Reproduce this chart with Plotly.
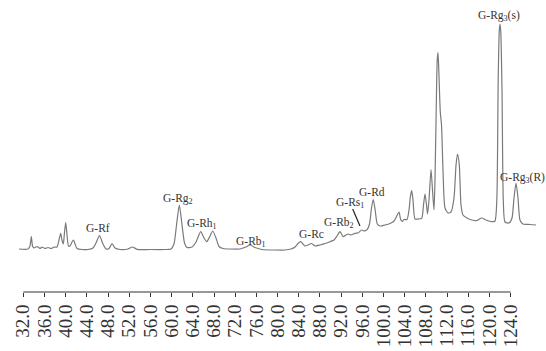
import plotly.graph_objects as go

# Retention time (min) and detector signal (arbitrary units)
time = [31.19, 32.89, 33.26, 33.51, 33.74, 34.02, 34.59, 35.15, 35.53, 36.10, 36.66, 37.23, 37.79, 38.36,
        38.74, 39.06, 39.30, 39.55, 39.78, 40.00, 40.25, 40.53, 40.81, 41.19, 41.48, 41.76, 42.14, 43.08,
        44.21, 45.16, 45.72, 46.38, 47.04, 47.61, 48.18, 48.74, 49.31, 50.25, 51.76, 52.61, 53.46, 55.91,
        58.75, 59.88, 60.44, 60.92, 61.45, 61.96, 62.43, 62.90, 63.85, 64.60, 65.48, 66.11, 66.62, 67.15,
        67.75, 68.37, 68.94, 69.69, 71.01, 72.90, 74.03, 74.79, 75.73, 77.06, 79.51, 81.40, 82.53, 83.29,
        83.85, 84.36, 84.80, 85.18, 85.74, 86.44, 87.06, 88.00, 88.95, 89.89, 90.65, 91.21, 91.78, 92.40,
        92.91, 93.34, 93.85, 94.61, 95.17, 95.87, 96.31, 96.93, 97.35, 97.72, 98.06, 98.42, 98.82, 99.33,
        100.27, 101.21, 101.97, 102.44, 102.92, 103.20, 103.48, 103.86, 104.43, 104.80, 105.08, 105.31,
        105.56, 105.93, 106.50, 107.20, 107.54, 107.82, 108.11, 108.30, 108.58, 108.96, 109.24, 109.52,
        109.71, 109.94, 110.13, 110.28, 110.46, 110.71, 110.94, 111.22, 111.60, 112.17, 112.73, 113.30,
        113.68, 113.96, 114.30, 114.62, 115.00, 115.75, 116.69, 117.64, 118.52, 119.34, 120.41, 121.03,
        121.38, 121.64, 121.85, 121.98, 122.13, 122.36, 122.60, 122.92, 123.68, 124.25, 124.62, 125.00,
        125.38, 125.75, 126.32, 127.64, 128.77]
signal = [1, 1, 4, 13.3, 4, 2, 3.5, 1.5, 3, 1.5, 2.5, 1.5, 3, 3,
          10, 16.7, 10, 6, 18, 27.3, 15, 4, 4, 8, 10, 6, 1.5, 0.5,
          0.5, 2, 7, 14.3, 6, 1, 1.5, 6.5, 2, 0.5, 1, 3, 0.7, 0.5,
          0.5, 1, 6, 25, 45, 25, 7, 2.5, 3, 8, 18.3, 12, 8.3, 13,
          19, 12, 3.5, 1.5, 1, 1, 3, 5, 2.5, 0.5, 0, 0, 1, 3,
          6.5, 8.3, 6, 4, 5, 6.5, 4, 5, 6.5, 8.3, 10, 14, 18.3, 13.3,
          15, 16, 15, 16.7, 17, 20, 19, 20.7, 26, 42, 50.5, 40, 26, 24,
          25, 26.5, 29, 33.5, 38, 31, 28.5, 30.5, 30.5, 40, 54, 59.3,
          50, 31, 31, 31.7, 45, 56, 45, 36, 50, 80.5, 60, 40,
          70, 140, 190, 197.3, 175, 138, 125, 80, 42, 37, 38, 52,
          85, 96, 85, 45, 35, 32, 30, 29.5, 32, 30, 28.3, 29,
          50, 170, 220, 226, 218, 160, 50, 28, 27, 32, 52, 67,
          52, 30, 26, 25.5, 25]

tick_vals = [32 + 4 * i for i in range(24)]
tick_text = [f"{v:.1f}" for v in tick_vals]

# Peak labels: (text, time, signal)
label_text = ["G-Rf", "G-Rg<sub>2</sub>", "G-Rh<sub>1</sub>", "G-Rb<sub>1</sub>", "G-Rc",
              "G-Rb<sub>2</sub>", "G-Rs<sub>1</sub>", "G-Rd", "G-Rg<sub>3</sub>(s)", "G-Rg<sub>3</sub>(R)"]
label_time = [46.10, 61.29, 65.64, 74.98, 86.49, 91.68, 93.66, 97.82, 121.79, 126.32]
label_signal = [22, 51, 26, 8, 16, 27, 47, 58.5, 234, 72]

fig = go.Figure()
fig.add_trace(go.Scatter(x=time, y=signal, mode="lines",
                         line=dict(color="#7a7a7a", width=1.2, shape="spline", smoothing=0.6),
                         hoverinfo="skip", showlegend=False))

for t, tx, s in zip(label_text, label_time, label_signal):
    fig.add_annotation(x=tx, y=s, text=t, showarrow=False, xanchor="center", yanchor="middle",
                       font=dict(family="Liberation Serif", size=11.5, color="#333333"))

# pointer line for G-Rs1
fig.add_shape(type="line", x0=94.17, y0=41, x1=95.55, y1=24, line=dict(color="#222222", width=1.2))
# axis line spanning the labelled ticks only
fig.add_shape(type="line", xref="x", yref="paper", x0=tick_vals[0], x1=tick_vals[-1], y0=0, y1=0,
              line=dict(color="#333333", width=1))

fig.update_layout(
    width=546, height=351,
    margin=dict(l=15, r=5, t=10, b=59),
    paper_bgcolor="white", plot_bgcolor="white",
    xaxis=dict(range=[30.43, 129.72], tickvals=tick_vals, ticktext=tick_text, tickangle=-90,
               ticks="outside", ticklen=4, tickcolor="#333333", showline=False, showgrid=False,
               zeroline=False, automargin=False,
               tickfont=dict(family="Liberation Serif", size=19, color="#333333")),
    yaxis=dict(range=[-42, 240], visible=False, automargin=False),
)

fig.write_html("out.html", config={"displayModeBar": False},
               post_script="document.body.style.margin='0px';document.body.style.overflow='hidden';")
